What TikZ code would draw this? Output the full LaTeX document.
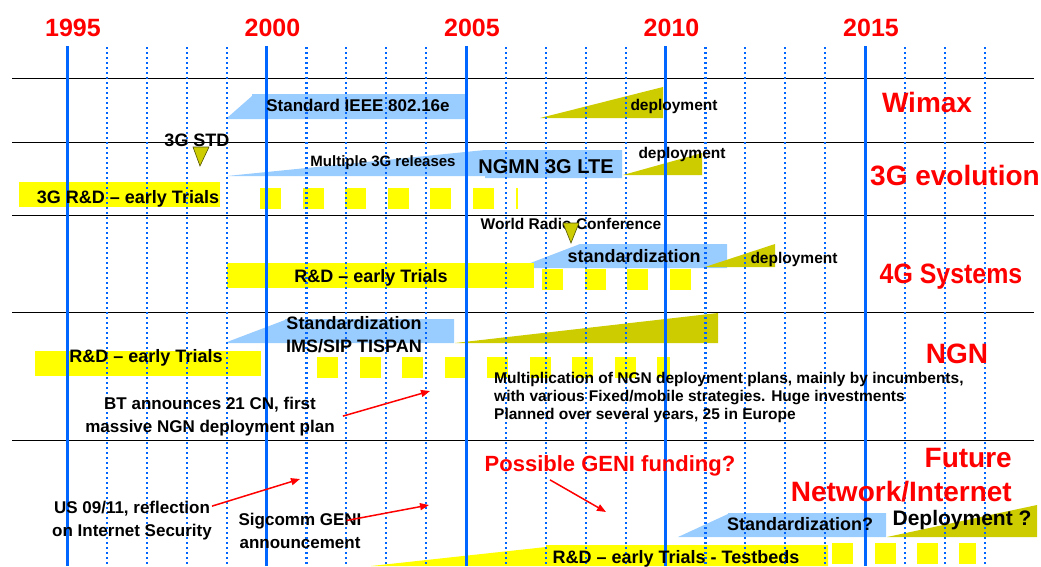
\documentclass[tikz,border=0pt]{standalone}
\usepackage{fontspec}
\setmainfont{Liberation Sans}
\usetikzlibrary{arrows.meta,positioning}
\definecolor{blueGrid}{rgb}{0,0.4,1}
\definecolor{blueStd}{rgb}{0.6,0.8,1}
\definecolor{oliveDep}{rgb}{0.8,0.8,0}
\definecolor{yellowRD}{rgb}{1,1,0}
\definecolor{redRow}{rgb}{1,0,0}
\newcommand{\txtsize}[2]{\fontsize{#1}{#2}\selectfont\bfseries}
\tikzset{
  year/.style={text=redRow, font=\txtsize{25}{30}, inner sep=0pt, anchor=base},
  rowname/.style={text=redRow, font=\txtsize{28}{34}, inner sep=0pt, anchor=base},
  bartext/.style={font=\txtsize{18}{23}, inner sep=0pt, anchor=base, align=center},
  note/.style={font=\txtsize{17}{23}, inner sep=0pt, anchor=base, align=center},
  small/.style={font=\txtsize{15.5}{18}, inner sep=0pt, anchor=base},
  mainline/.style={blueGrid, line width=3pt},
  subline/.style={blueGrid, line width=2.2pt, dash pattern=on 2pt off 3pt},
  rowline/.style={black, line width=1pt},
  stdfill/.style={fill=blueStd},
  depfill/.style={fill=oliveDep},
  rdfill/.style={fill=yellowRD},
  milestone/.style={fill=oliveDep, draw=black!60!oliveDep, line width=0.6pt},
  remark/.style={redRow, line width=1.5pt, -{Triangle[length=9pt,width=7pt]}}
}

\begin{document}
\begin{tikzpicture}[x=1pt,y=-1pt]
  \useasboundingbox (0,0) rectangle (1041,566);

  % rows
  \foreach \ry in {78,142,215,312,440}
    \draw[rowline] (12,\ry) -- (1034,\ry);

  % Wimax
  \fill[stdfill] (227,118) -- (252,96) -- (252,94) -- (465,94) -- (465,119) -- (227,119) -- cycle;
  \fill[depfill] (540,118) -- (663,87) -- (663,118) -- cycle;

  % 3G evolution
  \fill[stdfill] (227,176) -- (485,150) -- (622,150) -- (622,178) -- (485,178) -- (485,176) -- cycle;
  \fill[depfill] (623,175) -- (702,153) -- (702,175) -- cycle;
  \fill[rdfill] (19,182) rectangle (220,207);
  \foreach \sx in {260,302.5,345,387.5,430,472.5}
    \fill[rdfill] (\sx,188) rectangle +(21,21);
  \fill[rdfill] (516,188) rectangle +(2,21);

  % 4G Systems
  \fill[stdfill] (520,267) -- (580,244) -- (727,244) -- (727,268) -- (520,268) -- cycle;
  \fill[depfill] (705,267) -- (775,244) -- (775,267) -- cycle;
  \fill[rdfill] (227,263) rectangle (534,288);
  \foreach \sx in {542,584.5,627,669.5}
    \fill[rdfill] (\sx,269) rectangle +(21,21);

  % NGN
  \fill[stdfill] (227,342) -- (285,320) -- (285,319) -- (454,319) -- (454,343) -- (227,343) -- cycle;
  \fill[depfill] (455,343) -- (718,313) -- (718,343) -- cycle;
  \fill[rdfill] (35,351) rectangle (261,376);
  \foreach \sx in {317,359.5,402,444.5,487,529.5,572,614.5}
    \fill[rdfill] (\sx,357) rectangle +(21,21);
  \fill[rdfill] (657,357) rectangle +(13,21);

  % Future Network/Internet
  \fill[stdfill] (678,537) -- (728,514) -- (728,513) -- (886,513) -- (886,537) -- cycle;
  \fill[depfill] (887,537) -- (1037,505) -- (1037,537) -- cycle;
  \fill[rdfill] (371,566) -- (546,547) -- (546,545) -- (828,545) -- (828,566) -- cycle;
  \foreach \sx in {832,874.5,917}
    \fill[rdfill] (\sx,543) rectangle +(21,21);
  \fill[rdfill] (959,543) rectangle +(17,21);

  % years
  \foreach \yr in {1995,2000,2005,2010,2015}{
    \pgfmathsetmacro{\xx}{67+39.9*(\yr-1995)}
    \draw[mainline] (\xx,46) -- (\xx,566);
    \node[year] (y\yr) at (\xx+6,36) {\yr};
  }
  \foreach \yr in {1996,1997,1998,1999,2001,2002,2003,2004,2006,2007,2008,2009,2011,2012,2013,2014,2016,2017,2018}{
    \pgfmathsetmacro{\xx}{67+39.9*(\yr-1995)}
    \draw[subline] (\xx,47) -- (\xx,566);
  }

  % texts
  \node[bartext, font=\txtsize{17}{20}] (ieee) at (358,111) {Standard IEEE 802.16e};
  \node[small] (depwimax) at (674,110) {deployment};
  \node[rowname] (wimax) at (927,112) {Wimax};

  \node[bartext] (std3g) at (197,146) {3G STD};
  \fill[milestone] (193,147) -- (209,147) -- (200,166) -- cycle;
  \node[small, font=\txtsize{15}{18}] (rel3g) at (383,166) {Multiple 3G releases};
  \node[bartext, font=\txtsize{20}{24}] (lte) at (546,173) {NGMN 3G LTE};
  \node[small] (dep3g) at (682,158) {deployment};
  \node[rowname] (evo3g) at (955,185) {3G evolution};
  \node[bartext] (rd3g) at (128,203) {3G R\&D -- early Trials};

  \node[small] (wrc) at (571,229) {World Radio Conference};
  \fill[milestone] (563,223) -- (579,223) -- (571,243) -- cycle;
  \node[bartext] (std4g) at (634,262) {standardization};
  \node[small] (dep4g) at (794,263) {deployment};
  \node[rowname] (sys4g) at (951,283) {\scalebox{0.89}[1]{4G Systems}};
  \node[bartext] (rd4g) at (371,282) {R\&D -- early Trials};

  \node[bartext] (ims) at (354,352) {Standardization\\IMS/SIP TISPAN};
  \node[bartext] (rdngn) at (146,362) {R\&D -- early Trials};
  \node[rowname] (ngn) at (957,363) {NGN};
  \node[small, anchor=base west, align=left] (plans) at (494,419)
    {Multiplication of NGN deployment plans, mainly by incumbents,\\
     with various Fixed/mobile strategies. Huge investments\\
     Planned over several years, 25 in Europe};
  \node[note] (bt) at (210,432) {BT announces 21 CN, first\\massive NGN deployment plan};

  \node[rowname, font=\txtsize{22}{26}] (geni) at (610,471) {Possible GENI funding?};
  \node[rowname, anchor=base east, align=right] (fni) at (1012,501) {Future\\Network/Internet};
  \node[note] (us) at (132,536) {US 09/11, reflection\\on Internet Security};
  \node[note] (sig) at (300,548) {Sigcomm GENI\\announcement};
  \node[bartext] (stdfni) at (800,530) {Standardization?};
  \node[bartext, font=\txtsize{21}{25}] (depfni) at (962,525) {Deployment ?};
  \node[bartext] (rdfni) at (676,563) {R\&D -- early Trials - Testbeds};

  % remarks
  \coordinate (btTip) at (430,391);
  \coordinate (usTip) at (300,479);
  \coordinate (sigTip) at (429,505);
  \coordinate (geniTip) at (606,512);
  \draw[remark] ([xshift=8]bt.east) -- (btTip);
  \draw[remark] ([yshift=14]us.east) -- (usTip);
  \draw[remark] ([xshift=-15,yshift=-8]sig.north east) -- (sigTip);
  \draw[remark] ([xshift=-60,yshift=-4]geni.south) -- (geniTip);
\end{tikzpicture}
\end{document}
